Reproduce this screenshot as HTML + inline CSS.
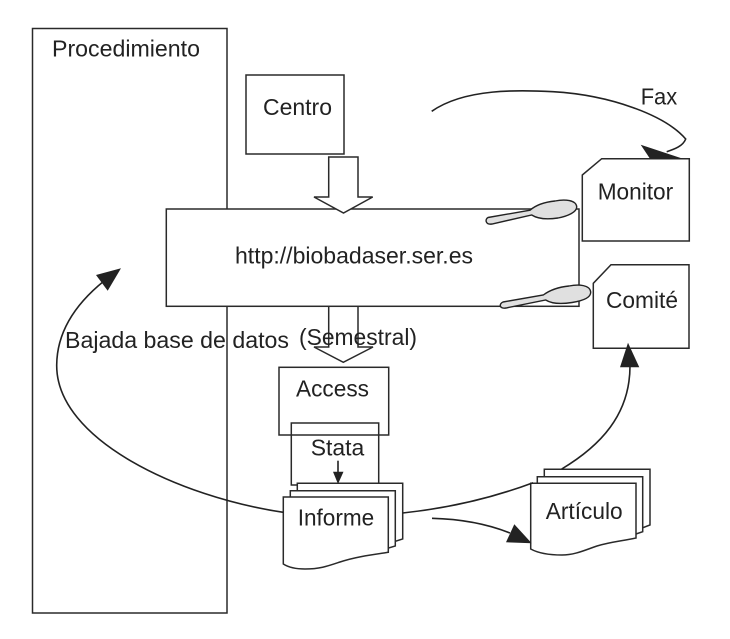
<!DOCTYPE html>
<html>
<head>
<meta charset="utf-8">
<style>
html,body{margin:0;padding:0;background:#fff;width:730px;height:639px;overflow:hidden}
svg{display:block}
text{font-family:"Liberation Sans",sans-serif;font-size:23.5px;fill:#222}
.s{fill:none;stroke:#2a2a2a;stroke-width:1.5}
.w{fill:#fff;stroke:#2a2a2a;stroke-width:1.5}
.c{fill:none;stroke:#222;stroke-width:1.6}
.a{fill:#222;stroke:none}
.g{fill:#e0e0e0;stroke:#222;stroke-width:1.4}
</style>
</head>
<body>
<svg width="730" height="639" viewBox="0 0 730 639" xmlns="http://www.w3.org/2000/svg">
<rect class="s" x="32.5" y="28.5" width="194.5" height="584.5"/>
<rect class="s" x="246" y="75" width="98" height="79"/>
<rect class="w" x="166.3" y="209" width="412.7" height="97.3"/>
<path class="w" d="M328.7 157H358V197H372.7L343.5 213L314 197H328.7Z"/>
<path class="s" d="M328.7 306V347H314L343.3 362.3L373 347H358V306"/>
<path class="w" d="M582.3 175L601.7 158.7H689.3V241H582.3Z"/>
<path class="w" d="M593.3 283.3L611 264.7H689V348.3H593.3Z"/>

<path class="c" d="M431.7 111.3C465 88 520 90 553 91.7C610 95 665 115 685.7 139C683 146 675 149 666.7 151.7"/>
<path class="a" d="M640.7 144.7L683 158.7H650Z"/>

<path class="g" d="M488 217.5L530 210.2C536 205 545 202 555 201C565 199 576 200 576.7 206.7C577 212 568 216 558 218C548 219.5 538 219 531.7 215L492 224C485 225 485 219 488 217.5Z"/>
<path class="g" d="M503 302L543.3 295C550 290 559 287 569 286C579 284 590 285 590.7 292C591 298 582 301 572 302.5C562 304 552 304 545.7 300L506 308C499 309 499 303.5 503 302Z"/>

<rect class="s" x="279" y="367.3" width="109.7" height="67.7"/>
<rect class="s" x="291.3" y="423" width="87.4" height="62"/>
<path class="c" d="M338 460.7V473"/>
<path class="a" d="M333 471.7H343.5L338 484Z"/>

<path class="w" d="M297.3 483.3H402.7V539L390 543H297.3Z"/>
<path class="w" d="M290.3 490.7H395.3V546L382 550H290.3Z"/>
<path class="w" d="M283.3 497H388.3V552.3C370 555 355 557 340 562C328 566 320 569 305 569C295 569 288 567 283.3 564Z"/>

<path class="w" d="M544.3 469.3H650V525L637 530H544.3Z"/>
<path class="w" d="M537.3 476.7H642.7V531.7L630 536H537.3Z"/>
<path class="w" d="M530.7 483.3H636V538C622 541 610 542 597 546C585 550 575 555 562 555C548 555 538 553 530.7 549Z"/>

<path class="c" d="M283.3 512.3C180 497 56 440 56.7 365C57 330 78 302 104 281"/>
<path class="a" d="M121 268.3L96 275L107.7 290.7Z"/>
<path class="c" d="M402.7 513C450 508 495 497 533 482.7"/>
<path class="c" d="M561.7 469C600 446 630 415 630 366"/>
<path class="a" d="M628 342.7L639.3 367.3H620Z"/>
<path class="c" d="M432 518.3C460 519 485 523 510 533"/>
<path class="a" d="M514.3 524.3L506 542.3L531.7 543.3Z"/>

<text x="52" y="56.7" textLength="148" lengthAdjust="spacingAndGlyphs">Procedimiento</text>
<text x="263" y="115" textLength="69" lengthAdjust="spacingAndGlyphs">Centro</text>
<text x="640.7" y="104.3" textLength="36.5" lengthAdjust="spacingAndGlyphs">Fax</text>
<text x="597.7" y="199.3" textLength="75.5" lengthAdjust="spacingAndGlyphs">Monitor</text>
<text x="606" y="308" textLength="72" lengthAdjust="spacingAndGlyphs">Comité</text>
<text x="235" y="263.3" textLength="238" lengthAdjust="spacingAndGlyphs">http://biobadaser.ser.es</text>
<text x="65" y="348" textLength="224" lengthAdjust="spacingAndGlyphs">Bajada base de datos</text>
<text x="299" y="345" textLength="118" lengthAdjust="spacingAndGlyphs">(Semestral)</text>
<text x="296" y="396.7" textLength="73" lengthAdjust="spacingAndGlyphs">Access</text>
<text x="310.7" y="455.7" textLength="53.5" lengthAdjust="spacingAndGlyphs">Stata</text>
<text x="297.7" y="525.7" textLength="76.5" lengthAdjust="spacingAndGlyphs">Informe</text>
<text x="545.7" y="519" textLength="77" lengthAdjust="spacingAndGlyphs">Artículo</text>
</svg>
</body>
</html>
